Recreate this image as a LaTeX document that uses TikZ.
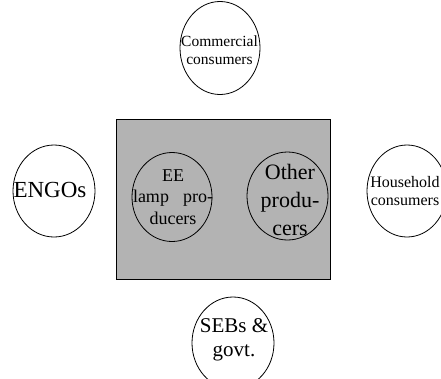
\documentclass[tikz,border=0pt]{standalone}
\usepackage{fontspec}
\setmainfont{Liberation Serif}
\usetikzlibrary{shapes.geometric}
\definecolor{boxgray}{RGB}{179,179,179}
\tikzset{
  bub/.style={draw=black, line width=0.8pt, ellipse, inner sep=0pt,
              minimum width=80pt, minimum height=92pt},
  lbl/.style={inner sep=0pt, align=center, text=black},
}
\begin{document}
\begin{tikzpicture}[x=1pt, y=-1pt]
  \useasboundingbox (0,0) rectangle (441,378);
  % industry box
  \node[draw=black, line width=0.9pt, fill=boxgray, inner sep=0pt,
        minimum width=214pt, minimum height=160pt] (ind) at (223,199) {};
  % producers inside the box
  \node[bub, minimum height=89pt] (ee) at (172,197) {};
  \node[lbl, font=\fontsize{18}{21.5}\selectfont] (eet) at (173,197)
    {EE\\\makebox[80pt]{lamp\hfill pro-}\\ducers};
  \node[bub, minimum height=88pt, minimum width=81pt] (oth) at (287.5,196) {};
  \node[lbl, font=\fontsize{22}{28}\selectfont] (otht) at (290,200)
    {Other\\produ-\\cers};
  % stakeholders around the box
  \node[bub, minimum height=93pt] (com) at (220,48) {};
  \node[lbl, font=\fontsize{15.5}{18.5}\selectfont] (comt) at (219.5,50)
    {Commercial\\consumers};
  \node[bub, minimum width=82pt] (ngo) at (54,191) {};
  \node[lbl, font=\fontsize{23}{27}\selectfont] (ngot) at (50,190) {ENGOs};
  \node[bub] (hh) at (407,191) {};
  \node[lbl, font=\fontsize{16}{18.5}\selectfont] (hht) at (405,191)
    {Household\\consumers};
  \node[bub, minimum width=82pt] (seb) at (233,343) {};
  \node[lbl, font=\fontsize{21}{24.5}\selectfont] (sebt) at (234,340)
    {SEBs \&\\govt.};
\end{tikzpicture}
\end{document}
